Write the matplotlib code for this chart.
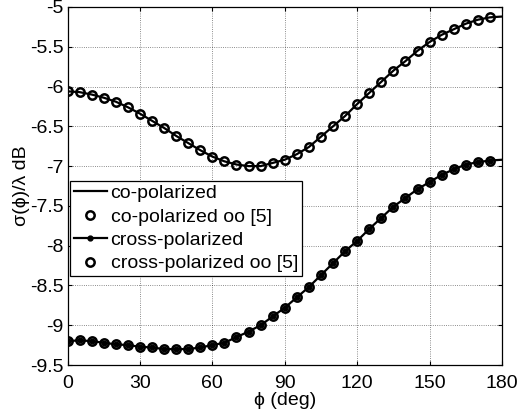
import numpy as np
import matplotlib
matplotlib.use("Agg")
import matplotlib.pyplot as plt

plt.rcParams["font.family"] = ["Liberation Sans", "DejaVu Sans"]

# angles (deg)
phi = [0, 5, 10, 15, 20, 25, 30, 35, 40, 45, 50, 55, 60, 65, 70, 75, 80, 85, 90,
       95, 100, 105, 110, 115, 120, 125, 130, 135, 140, 145, 150, 155, 160, 165,
       170, 175, 180]

# co-polarized RCS (dB)
co_pol = [-6.06, -6.07, -6.10, -6.14, -6.19, -6.26, -6.34, -6.43, -6.52, -6.62,
          -6.71, -6.80, -6.88, -6.94, -6.98, -7.00, -7.00, -6.96, -6.92, -6.85,
          -6.76, -6.63, -6.50, -6.37, -6.22, -6.08, -5.94, -5.80, -5.68, -5.55,
          -5.44, -5.35, -5.28, -5.21, -5.16, -5.13, -5.12]

# cross-polarized RCS (dB)
cross_pol = [-9.20, -9.19, -9.20, -9.22, -9.24, -9.25, -9.27, -9.28, -9.30, -9.30,
             -9.30, -9.28, -9.25, -9.22, -9.15, -9.08, -9.00, -8.89, -8.78, -8.65,
             -8.52, -8.37, -8.22, -8.07, -7.94, -7.79, -7.65, -7.51, -7.40, -7.29,
             -7.20, -7.11, -7.04, -6.98, -6.95, -6.93, -6.92]

# reference [5] points
phi_ref = phi[:-1]
co_ref = co_pol[:-1]
cross_ref = cross_pol[:-1]

fig = plt.figure(figsize=(5.19, 4.17), dpi=100)
ax = fig.add_axes([67.5 / 519, 1 - 365 / 417, (502 - 67.5) / 519, (365 - 7) / 417])

ax.plot(phi, co_pol, "k-", lw=1.6, label="co-polarized")
ax.plot(phi_ref, co_ref, "o", ls="none", ms=6, mfc="none", mec="k", mew=1.8,
        label="co-polarized oo [5]")
ax.plot(phi, cross_pol, "k-", lw=1.6, marker=".", ms=7, markevery=list(range(36)),
        label="cross-polarized")
ax.plot(phi_ref, cross_ref, "o", ls="none", ms=6, mfc="none", mec="k", mew=1.8,
        label="cross-polarized oo [5]")

ax.set_xlim(0, 180)
ax.set_ylim(-9.5, -5)
ax.set_xticks(np.arange(0, 181, 30))
ax.set_yticks(np.arange(-9.5, -4.9, 0.5))
ax.set_yticklabels(["-9.5", "-9", "-8.5", "-8", "-7.5", "-7", "-6.5", "-6", "-5.5", "-5"])
ax.tick_params(direction="in", top=True, right=True, labelsize=14, length=3)
ax.tick_params(axis="x", pad=7)
ax.tick_params(axis="y", pad=3)
ax.grid(True, ls=":", color="k", lw=0.6, alpha=0.6)
for s in ax.spines.values():
    s.set_linewidth(0.9)

ax.set_xlabel("ϕ (deg)", fontsize=14, labelpad=0)
ax.set_ylabel("σ(ϕ)/λ dB", fontsize=14, labelpad=0)

leg = ax.legend(loc="upper left", bbox_to_anchor=(0.005, 0.515), fontsize=14,
                fancybox=False, edgecolor="k", framealpha=1, numpoints=1,
                handlelength=1.7, handletextpad=0.2, labelspacing=0.3,
                borderpad=0.2, borderaxespad=0)
leg.get_frame().set_linewidth(0.9)

fig.savefig("out.png", dpi=100)
